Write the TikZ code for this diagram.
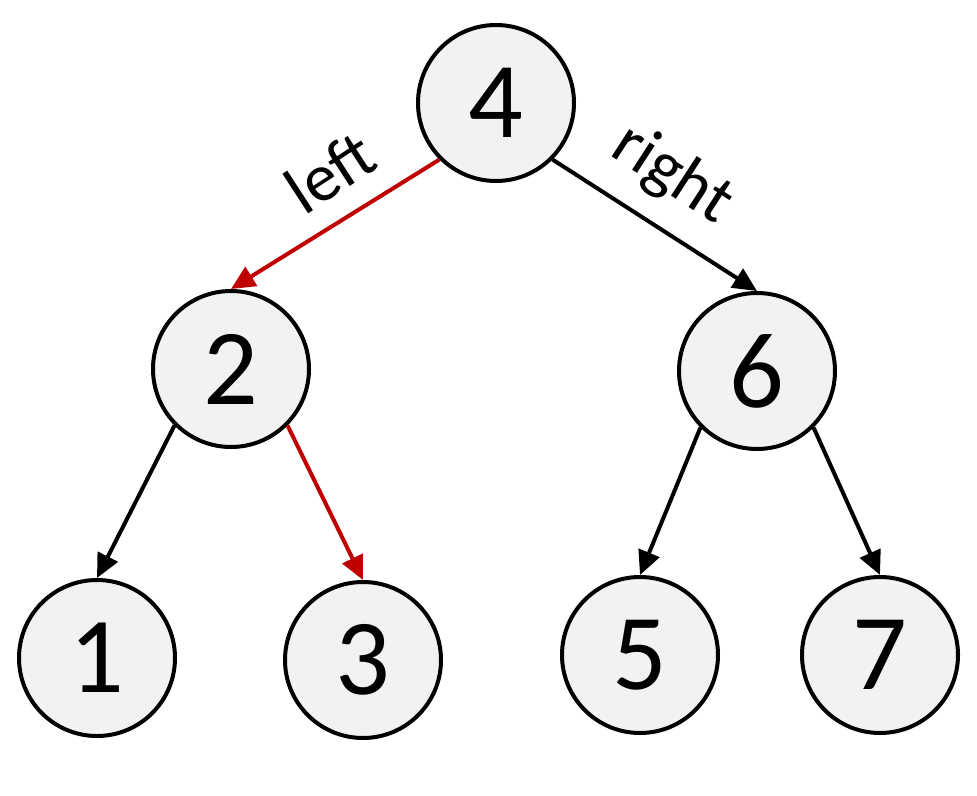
\documentclass[tikz,border=0pt]{standalone}
\usepackage{fontspec}
\setmainfont{Carlito}
\usetikzlibrary{arrows.meta}
\definecolor{nodefill}{HTML}{F2F2F2}
\definecolor{redline}{HTML}{C00000}
\begin{document}
\begin{tikzpicture}[x=1pt,y=-1pt,
  tnode/.style={circle,draw=black,line width=4pt,fill=nodefill,minimum size=156pt,inner sep=0pt,font=\fontsize{108}{112}\selectfont},
  edge/.style={line width=4pt,-{Triangle[length=24pt,width=22pt]}},
  redge/.style={edge,draw=redline,-{Triangle[length=24pt,width=22pt,fill=redline]}},
  lbl/.style={font=\fontsize{68}{72}\selectfont}]
\useasboundingbox (0,0) rectangle (977,795);
\node[tnode] (n4) at (496,103) {4};
\node[tnode] (n2) at (231,369) {2};
\node[tnode] (n6) at (757,371) {6};
\node[tnode] (n1) at (97,658) {1};
\node[tnode] (n3) at (363,660) {3};
\node[tnode] (n5) at (640,655) {5};
\node[tnode] (n7) at (880,655) {7};
\draw[redge] (n4.225) -- (n2.90);
\draw[edge] (n4.315) -- (n6.90);
\draw[edge] (n2.225) -- (n1.90);
\draw[redge] (n2.315) -- (n3.90);
\draw[edge] (n6.225) -- (n5.90);
\draw[edge] (n6.315) -- (n7.90);
\node[lbl,rotate=33] (ll) at (330,172) {left};
\node[lbl,rotate=-33] (rl) at (672,175) {right};
\end{tikzpicture}
\end{document}
